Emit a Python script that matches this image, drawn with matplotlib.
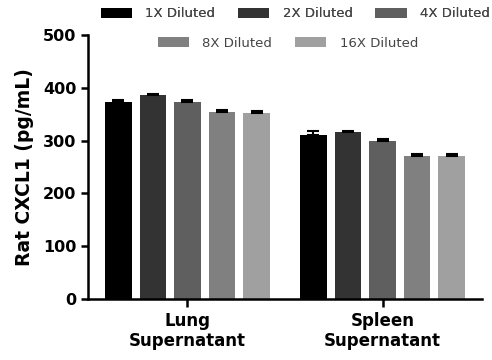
import numpy as np
import matplotlib.pyplot as plt
from matplotlib.patches import Patch

groups = ["Lung\nSupernatant", "Spleen\nSupernatant"]
dilutions = ["1X Diluted", "2X Diluted", "4X Diluted", "8X Diluted", "16X Diluted"]
colors = ["#000000", "#333333", "#5f5f5f", "#808080", "#a0a0a0"]

# mean and SEM per dilution, one value per group
means = [
    [374, 310],
    [386, 316],
    [374, 299],
    [354, 270],
    [353, 270],
]
errors = [
    [2, 8],
    [2, 2],
    [3, 4],
    [4, 5],
    [4, 5],
]

plt.rcParams["font.family"] = "DejaVu Sans"
fig = plt.figure(figsize=(4.92, 3.6), dpi=100)
ax = fig.add_axes([88 / 492, 61 / 360, 394 / 492, 264 / 360])

x = np.arange(len(groups))
step = 0.177
width = 0.135
for i, (lab, c) in enumerate(zip(dilutions, colors)):
    pos = x + (i - 2) * step
    ax.bar(pos, means[i], width, color=c, label=lab, zorder=2)
    ax.errorbar(pos, means[i], yerr=[[0] * len(groups), errors[i]], fmt="none",
                ecolor="black", elinewidth=1.5, capsize=4, capthick=1.5, zorder=3)

ax.set_xlim(-0.51, 1.51)
ax.set_ylim(0, 500)
ax.set_yticks([0, 100, 200, 300, 400, 500])
ax.set_xticks(x)
ax.set_xticklabels(groups, fontsize=12, fontweight="bold", linespacing=1.1)
ax.tick_params(axis="y", labelsize=11.5, width=1.8, length=5)
ax.tick_params(axis="x", width=1.8, length=6)
for t in ax.get_yticklabels():
    t.set_fontweight("bold")
ax.set_ylabel("Rat CXCL1 (pg/mL)", fontsize=13.5, fontweight="bold", labelpad=6)
for s in ["top", "right"]:
    ax.spines[s].set_visible(False)
for s in ["left", "bottom"]:
    ax.spines[s].set_linewidth(1.8)

handles = [Patch(facecolor=c, edgecolor="none") for c in colors]
opts = dict(frameon=False, fontsize=9.5, handlelength=2.4, handleheight=0.8,
            columnspacing=1.7, handletextpad=1.0, labelcolor="#444444")
leg1 = fig.legend(handles[:3], dilutions[:3], loc="center", bbox_to_anchor=(0.6, 0.962),
                  ncol=3, **opts)
fig.legend(handles[3:], dilutions[3:], loc="center", bbox_to_anchor=(0.585, 0.88),
           ncol=2, **opts)
fig.add_artist(leg1)

fig.savefig("out.png", dpi=100)
